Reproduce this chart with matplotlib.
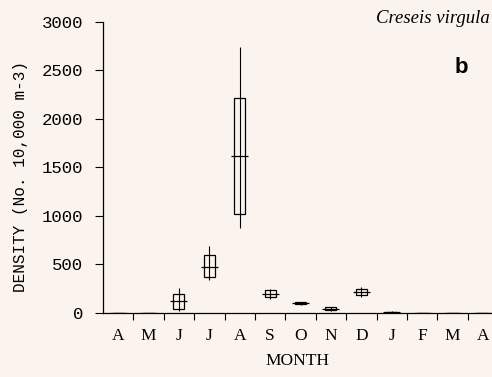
import numpy as np
import matplotlib.pyplot as plt

# monthly density summaries (No. 10,000 m-3)
months = ['A', 'M', 'J', 'J', 'A', 'S', 'O', 'N', 'D', 'J', 'F', 'M', 'A']
lo  = [0, 0, 20, 340, 875, 145, 85, 20, 160, 0, 0, 0, 0]
q1  = [0, 0, 40, 365, 1020, 160, 92, 28, 180, 5, 0, 0, 0]
med = [0, 0, 125, 475, 1615, 195, 103, 42, 215, 10, 0, 0, 0]
q3  = [0, 0, 190, 600, 2215, 235, 110, 58, 245, 12, 0, 0, 0]
hi  = [0, 0, 255, 690, 2745, 248, 115, 62, 270, 15, 0, 0, 0]
yticks = [0, 500, 1000, 1500, 2000, 2500, 3000]

bg = '#fbf4ee'
mono = 'Liberation Mono'
serif = 'Liberation Serif'

fig = plt.figure(figsize=(4.92, 3.77), dpi=100, facecolor=bg)
ax = fig.add_axes([0.2093, 0.170, 0.7907, 0.772])
ax.set_facecolor(bg)

x = np.arange(len(months))
lo, q1, med, q3, hi = map(np.array, (lo, q1, med, q3, hi))

# whiskers run straight through the boxes
ax.vlines(x, lo, hi, color='black', lw=0.8)
ax.bar(x, q3 - q1, bottom=q1, width=0.36, facecolor='none', edgecolor='black', lw=0.9)
ax.hlines(med, x - 0.28, x + 0.28, color='black', lw=0.9)

ax.set_xlim(-0.5, 12.3)
ax.set_ylim(0, 3000)
ax.spines['top'].set_visible(False)
ax.spines['right'].set_visible(False)
ax.spines['left'].set_linewidth(0.9)
ax.spines['bottom'].set_linewidth(0.9)

ax.set_xticks(x)
ax.set_xticklabels(months, fontfamily=serif, fontsize=12.5)
ax.set_xticks(x[:-1] + 0.5, minor=True)
ax.tick_params(axis='x', which='major', length=0, pad=11)
ax.tick_params(axis='x', which='minor', length=5, direction='out', width=0.8)

ax.set_yticks(yticks)
ax.set_yticklabels([str(v) for v in yticks], fontfamily=mono, fontsize=12.5)
ax.tick_params(axis='y', length=6, direction='out', width=0.8, pad=8)

ax.set_xlabel('MONTH', fontfamily=serif, fontsize=12.5, labelpad=6)
ax.set_ylabel('DENSITY (No. 10,000 m-3)', fontfamily=mono, fontsize=11.5)
ax.yaxis.set_label_coords(-0.192, 0.47)

fig.text(0.995, 0.952, 'Creseis virgula', ha='right', va='center',
         fontfamily=serif, style='italic', fontsize=13.5)
fig.text(0.937, 0.822, 'b', ha='center', va='center',
         fontfamily='Liberation Sans', fontweight='bold', fontsize=16)

fig.savefig('out.png', dpi=100, facecolor=bg)
